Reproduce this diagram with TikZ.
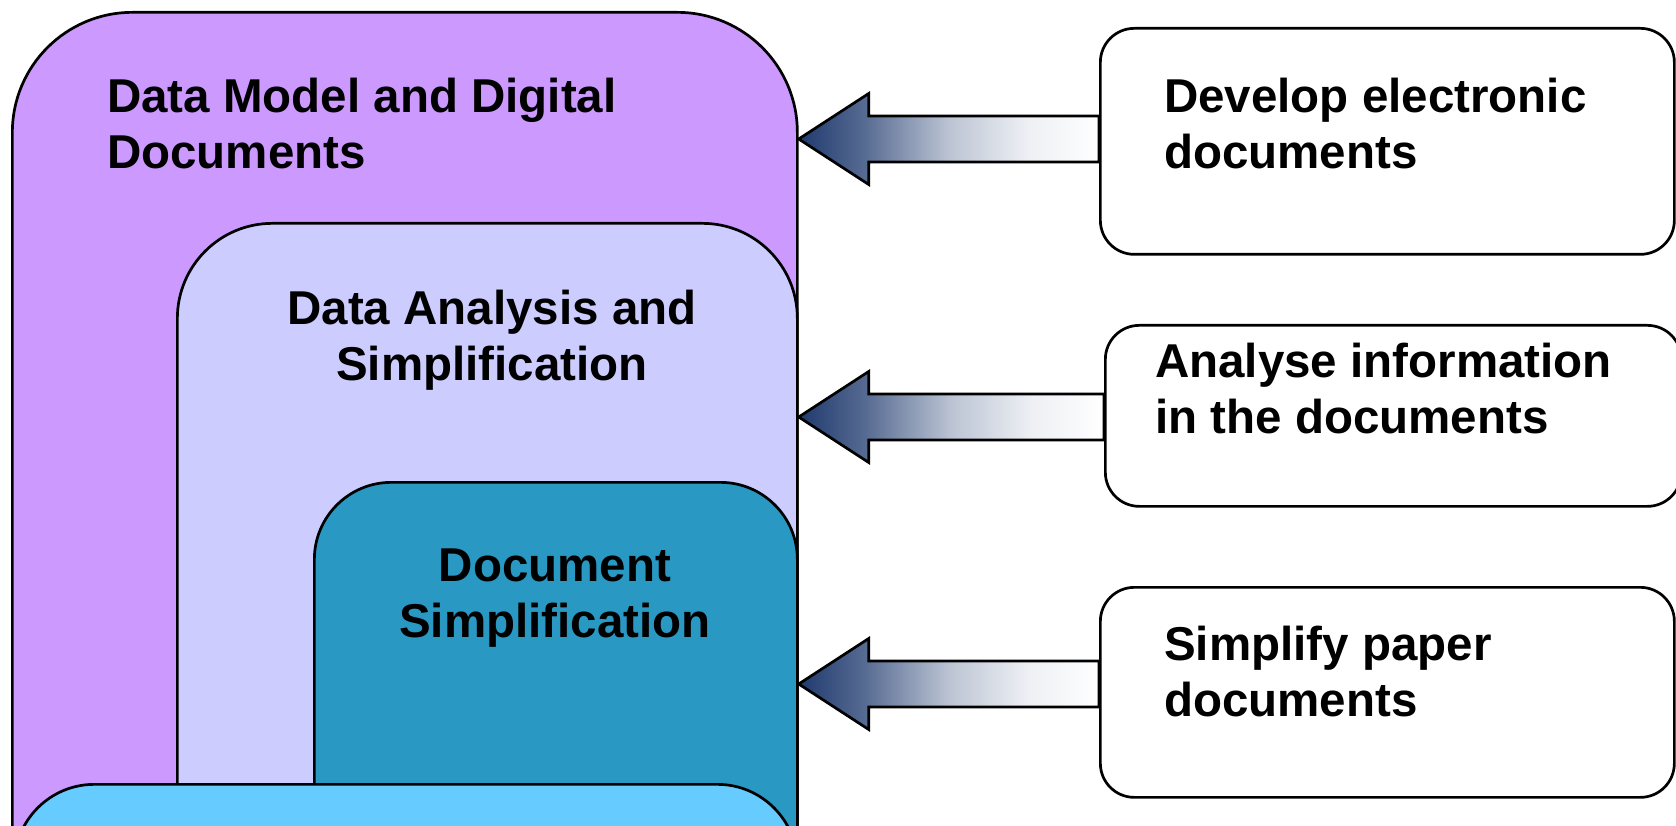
\documentclass[tikz,border=0pt]{standalone}
\usepackage{fontspec}
\setmainfont{Liberation Sans}
\usepackage{tikz}
\tikzset{>=latex}
\usetikzlibrary{calc}
\definecolor{modelpurple}{HTML}{CC99FF}
\definecolor{analysislilac}{HTML}{CCCCFF}
\definecolor{simplifyteal}{HTML}{2999C4}
\definecolor{basecyan}{HTML}{66CCFF}
\definecolor{arrownavy}{HTML}{1F3A6E}
\pgfdeclarehorizontalshading{arrowfade}{100bp}{color(0bp)=(arrownavy); color(25bp)=(arrownavy); color(36bp)=(arrownavy!75!white); color(50bp)=(arrownavy!30!white); color(63bp)=(arrownavy!8!white); color(75bp)=(white); color(100bp)=(white)}
% block arrow: tip, box it starts from
\newcommand{\fatarrow}[2]{%
  \draw[arrowbody] (#1) -- ($(#1)+(70,-45.5)$) -- ($(#1)+(70,-23)$) -- ($(#2 |- #1)+(0,-23)$)
    -- ($(#2 |- #1)+(0,23)$) -- ($(#1)+(70,23)$) -- ($(#1)+(70,45.5)$) -- cycle;}

\begin{document}
\begin{tikzpicture}[x=1pt,y=-1pt,line join=round,
    layer/.style={draw,line width=2.7pt,inner sep=0pt,anchor=north west,minimum height=1000pt},
    task/.style={draw,line width=2.7pt,fill=white,rounded corners=34pt,inner sep=0pt,anchor=north west},
    title/.style={font=\fontsize{47.5}{56}\selectfont\bfseries,inner sep=0pt},
    arrowbody/.style={draw,line width=2.7pt,shading=arrowfade,line join=miter}]
		\useasboundingbox (0,0) rectangle (1676,826);
		\clip (0,0) rectangle (1676,826);
		% nested layers
		\node[layer,fill=modelpurple,rounded corners=120pt,minimum width=785pt] (model) at (11,11) {};
		\node[layer,fill=analysislilac,rounded corners=95pt,minimum width=620pt] (analysis) at (176,222) {};
		\node[layer,fill=simplifyteal,rounded corners=77pt,minimum width=483pt] (simplify) at (313,481) {};
		\node[layer,fill=basecyan,rounded corners=80pt,minimum width=783pt] (base) at (13,783) {};
		\node[title,anchor=base west,align=left] (modeltext) at (107,169) {Data Model and Digital\\Documents};
		\node[title,anchor=base,align=center] (analysistext) at (492,380) {Data Analysis and\\Simplification};
		\node[title,anchor=base,align=center] (simplifytext) at (555,637) {Document\\Simplification};
		% tasks on the right
		\node[task,minimum width=574pt,minimum height=226pt] (develop) at (1099,27) {};
		\node[task,minimum width=576pt,minimum height=181pt] (analyse) at (1104,324) {};
		\node[task,minimum width=574pt,minimum height=210pt] (paper) at (1099,586) {};
		\node[title,anchor=base west,align=left] (developtext) at (1164,169) {Develop electronic\\documents};
		\node[title,anchor=base west,align=left] (analysetext) at (1155,433) {Analyse information\\in the documents};
		\node[title,anchor=base west,align=left] (papertext) at (1164,716) {Simplify paper\\documents};
		% arrows
		\coordinate (developtip) at (model.east |- 0,139);
		\coordinate (analysetip) at (model.east |- 0,417);
		\coordinate (papertip) at (model.east |- 0,684);
		\fatarrow{developtip}{develop.west}
		\fatarrow{analysetip}{analyse.west}
		\fatarrow{papertip}{paper.west}
\end{tikzpicture}
\end{document}
